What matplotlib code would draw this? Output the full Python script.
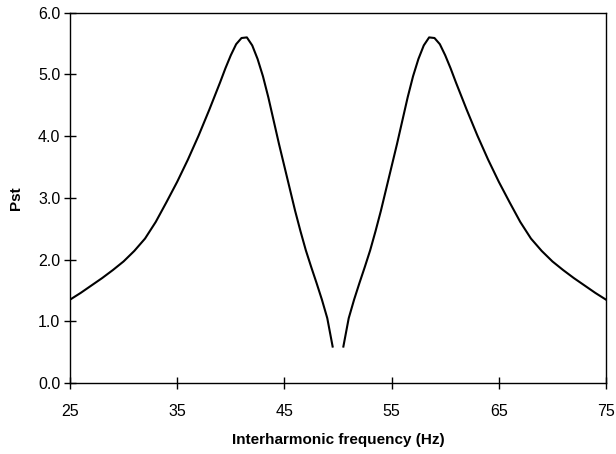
import matplotlib
matplotlib.use('Agg')
import matplotlib.pyplot as plt

plt.rcParams['font.family'] = ['Liberation Sans', 'DejaVu Sans']

# interharmonic frequency (Hz) and Pst, below and above the 50 Hz fundamental
freq_low = [25, 26, 27, 28, 29, 30, 31, 32, 33, 34, 35, 36, 37, 38, 39, 39.5, 40,
            40.5, 41, 41.5, 42, 42.5, 43, 43.5, 44, 44.5, 45, 45.5, 46, 46.5, 47,
            47.5, 48, 48.5, 49, 49.5]
pst_low = [1.35, 1.46, 1.58, 1.70, 1.83, 1.97, 2.14, 2.34, 2.61, 2.93, 3.26, 3.62,
           4.01, 4.43, 4.87, 5.10, 5.31, 5.49, 5.59, 5.60, 5.47, 5.25, 4.97, 4.63,
           4.25, 3.87, 3.51, 3.15, 2.79, 2.46, 2.15, 1.88, 1.62, 1.35, 1.05, 0.59]

freq_high = [50.5, 51, 51.5, 52, 52.5, 53, 53.5, 54, 54.5, 55, 55.5, 56, 56.5, 57,
             57.5, 58, 58.5, 59, 59.5, 60, 60.5, 61, 62, 63, 64, 65, 66, 67, 68, 69,
             70, 71, 72, 73, 74, 75]
pst_high = [0.59, 1.05, 1.35, 1.62, 1.88, 2.15, 2.46, 2.79, 3.15, 3.51, 3.87, 4.25,
            4.63, 4.97, 5.25, 5.47, 5.60, 5.59, 5.49, 5.31, 5.10, 4.87, 4.43, 4.01,
            3.62, 3.26, 2.93, 2.61, 2.34, 2.14, 1.97, 1.83, 1.70, 1.58, 1.46, 1.35]

x_ticks = [25, 35, 45, 55, 65, 75]
y_ticks = [0.0, 1.0, 2.0, 3.0, 4.0, 5.0, 6.0]

fig = plt.figure(figsize=(6.16, 4.54), dpi=100)
ax = fig.add_axes([0.1136, 0.1564, 0.8702, 0.8156])

ax.plot(freq_low, pst_low, color='black', linewidth=1.5, solid_joinstyle='round')
ax.plot(freq_high, pst_high, color='black', linewidth=1.5, solid_joinstyle='round')

ax.set_xlim(25, 75)
ax.set_ylim(0, 6)
ax.set_xticks(x_ticks)
ax.set_yticks(y_ticks)
ax.set_yticklabels(['%.1f' % v for v in y_ticks])

ax.tick_params(axis='x', direction='inout', length=8, width=1, labelsize=11.5, pad=11)
ax.tick_params(axis='y', direction='inout', length=8, width=1, labelsize=11.5, pad=3)
for s in ax.spines.values():
    s.set_linewidth(1)

ax.set_xlabel('Interharmonic frequency (Hz)', fontsize=11, fontweight='bold', labelpad=10)
ax.set_ylabel('Pst', fontsize=11, fontweight='bold', labelpad=11)

fig.savefig('out.png', dpi=100)
